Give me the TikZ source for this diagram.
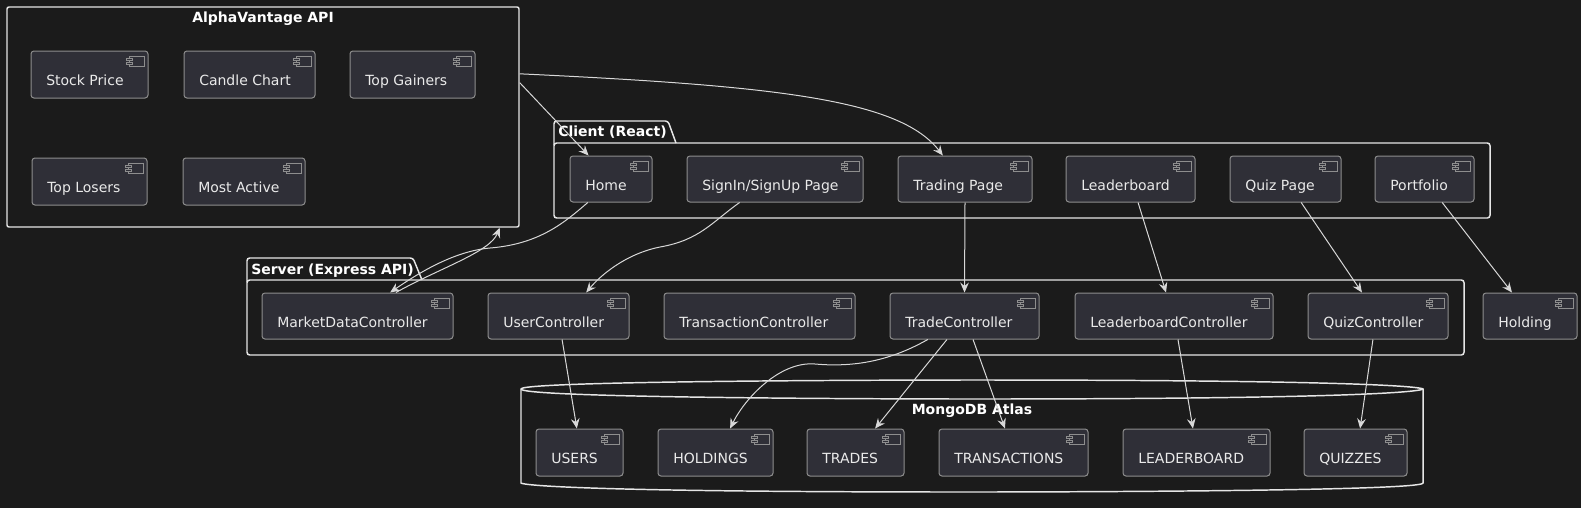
\documentclass[tikz,border=0pt]{standalone}
\usepackage{fontspec}
\setmainfont{DejaVu Sans}
\usetikzlibrary{arrows.meta,calc,fit}
\definecolor{bg}{HTML}{1B1B1B}
\definecolor{compfill}{HTML}{2F2F37}
\definecolor{compline}{HTML}{8E8E8E}
\definecolor{txt}{HTML}{EAEAEA}
\definecolor{pkgline}{HTML}{E6E6E6}
\definecolor{arrowc}{HTML}{D8D8D8}
\tikzset{
  compbox/.style={draw=compline, fill=compfill, line width=0.75pt, rounded corners=2.2pt, inner sep=0pt},
  compicon/.style={draw=compline, fill=compfill, line width=0.6pt},
  comptext/.style={text=txt, inner sep=0pt, font=\fontsize{10.5pt}{12.6pt}\selectfont},
  titletext/.style={text=white, inner sep=0pt, font=\fontsize{10.5pt}{12.6pt}\selectfont\bfseries},
  pkgbox/.style={draw=pkgline, line width=1.1pt, rounded corners=2pt, inner sep=0pt},
  pkgtab/.style={draw=pkgline, line width=1.1pt, rounded corners=2pt},
  conn/.style={draw=arrowc, line width=0.75pt, -{Stealth[length=7.5pt,width=6.5pt,inset=2.6pt]}},
}
\newcommand{\comp}[6]{%
  \coordinate (#1-nw) at (#2,#3);
  \coordinate (#1-se) at (#4,#5);
  \node[compbox, fit=(#1-nw)(#1-se)] (#1) {};
  \draw[compicon] (#4-19,#3+5) rectangle (#4-4,#3+15);
  \draw[compicon] (#4-22,#3+7) rectangle (#4-16,#3+9.5);
  \draw[compicon] (#4-22,#3+11) rectangle (#4-16,#3+13.5);
  \node[comptext, anchor=base west] (#1-label) at (#2+15,#3+34) {#6};
}
\begin{document}
\begin{tikzpicture}[x=0.75pt,y=-0.75pt]
\fill[bg] (0,0) rectangle (1581,508);
\useasboundingbox (0,0) rectangle (1581,508);

% AlphaVantage API frame
\coordinate (av-nw) at (7,7);
\coordinate (av-se) at (519,227);
\node[pkgbox, rounded corners=1.5pt, fit=(av-nw)(av-se)] (av) {};
\node[titletext, anchor=base] (av-title) at (263,22) {AlphaVantage API};
\comp{stock}{31}{51}{148}{98}{Stock Price}
\comp{candle}{184}{51}{315}{98}{Candle Chart}
\comp{gainers}{350}{51}{475}{98}{Top Gainers}
\comp{losers}{32}{158}{147}{205}{Top Losers}
\comp{active}{183}{158}{305}{205}{Most Active}

% Client package
\coordinate (client-nw) at (554,143);
\coordinate (client-se) at (1490,218);
\node[pkgbox, fit=(client-nw)(client-se)] (client) {};
\draw[pkgtab] (554,145) -- (554,121) -- (668,121) -- (676,143);
\node[titletext, anchor=base west] (client-title) at (558,136) {Client (React)};
\comp{home}{570}{156}{652}{202}{Home}
\comp{signin}{687}{156}{863}{202}{SignIn/SignUp Page}
\comp{trading}{898}{156}{1032}{202}{Trading Page}
\comp{leaderboard}{1066}{156}{1195}{202}{Leaderboard}
\comp{quiz}{1230}{156}{1341}{202}{Quiz Page}
\comp{portfolio}{1375}{156}{1474}{202}{Portfolio}

% Server package
\coordinate (server-nw) at (247,280);
\coordinate (server-se) at (1464,355);
\node[pkgbox, fit=(server-nw)(server-se)] (server) {};
\draw[pkgtab] (247,282) -- (247,258) -- (413,258) -- (422,280);
\node[titletext, anchor=base west] (server-title) at (251,274) {Server (Express API)};
\comp{mdc}{262}{293}{453}{339}{MarketDataController}
\comp{userc}{488}{293}{629}{339}{UserController}
\comp{transc}{664}{293}{855}{339}{TransactionController}
\comp{tradec}{890}{293}{1039}{339}{TradeController}
\comp{leaderc}{1075}{293}{1273}{339}{LeaderboardController}
\comp{quizc}{1308}{293}{1448}{339}{QuizController}
\comp{holding}{1483}{293}{1577}{339}{Holding}

% MongoDB Atlas database
\draw[draw=pkgline, line width=1.1pt] (521,389) .. controls (521,380) and (972,380) .. (972,380)
  .. controls (1423,380) and (1423,389) .. (1423,389) -- (1423,483)
  .. controls (1423,492) and (972,492) .. (972,492)
  .. controls (521,492) and (521,483) .. (521,483) -- cycle;
\draw[draw=pkgline, line width=1.1pt] (521,389) .. controls (521,399) and (972,399) .. (972,399)
  .. controls (1423,399) and (1423,389) .. (1423,389);
\coordinate (db-nw) at (521,380);
\coordinate (db-se) at (1423,492);
\node[inner sep=0pt, fit=(db-nw)(db-se)] (db) {};
\node[titletext, anchor=base] (db-title) at (972,414) {MongoDB Atlas};
\comp{users}{536}{429}{623}{476}{USERS}
\comp{holdings}{658}{429}{773}{476}{HOLDINGS}
\comp{trades}{807}{429}{904}{476}{TRADES}
\comp{transactions}{939}{429}{1088}{476}{TRANSACTIONS}
\comp{leaderdb}{1123}{429}{1270}{476}{LEADERBOARD}
\comp{quizzes}{1304}{429}{1407}{476}{QUIZZES}

% connectors
\draw[conn] ($(av.north east)!0.345!(av.south east)$) -- ($(home.north west)!0.23!(home.north east)$);
\draw[conn] ($(av.north east)!0.305!(av.south east)$) .. controls (780,86) and (900,100) .. ($(trading.north west)!0.336!(trading.north east)$);
\draw[conn] ($(home.south west)!0.22!(home.south east)$) .. controls (565,222) and (540,244) .. (490,248)
  .. controls (455,251) and (420,272) .. ($(mdc.north west)!0.67!(mdc.north east)$);
\draw[conn] ($(mdc.north west)!0.70!(mdc.north east)$) .. controls (440,268) and (490,252) .. ($(av.south west)!0.961!(av.south east)$);
\draw[conn] ($(signin.south west)!0.30!(signin.south east)$) .. controls (712,222) and (700,240) .. (660,247)
  .. controls (625,254) and (600,276) .. ($(userc.north west)!0.695!(userc.north east)$);
\draw[conn] (trading.south) -- (tradec.north);
\draw[conn] ($(leaderboard.south west)!0.558!(leaderboard.south east)$) -- ($(leaderc.north west)!0.46!(leaderc.north east)$);
\draw[conn] ($(quiz.south west)!0.64!(quiz.south east)$) -- ($(quizc.north west)!0.386!(quizc.north east)$);
\draw[conn] ($(portfolio.south west)!0.677!(portfolio.south east)$) -- ($(holding.north west)!0.31!(holding.north east)$);
\draw[conn] ($(userc.south west)!0.525!(userc.south east)$) -- ($(users.north west)!0.47!(users.north east)$);
\draw[conn] ($(tradec.south west)!0.255!(tradec.south east)$) .. controls (895,358) and (860,368) .. (815,364)
  .. controls (780,361) and (745,398) .. ($(holdings.north west)!0.626!(holdings.north east)$);
\draw[conn] ($(tradec.south west)!0.383!(tradec.south east)$) -- ($(trades.north west)!0.70!(trades.north east)$);
\draw[conn] ($(tradec.south west)!0.557!(tradec.south east)$) -- ($(transactions.north west)!0.443!(transactions.north east)$);
\draw[conn] ($(leaderc.south west)!0.52!(leaderc.south east)$) -- ($(leaderdb.north west)!0.476!(leaderdb.north east)$);
\draw[conn] ($(quizc.south west)!0.464!(quizc.south east)$) -- ($(quizzes.north west)!0.544!(quizzes.north east)$);
\end{tikzpicture}
\end{document}
